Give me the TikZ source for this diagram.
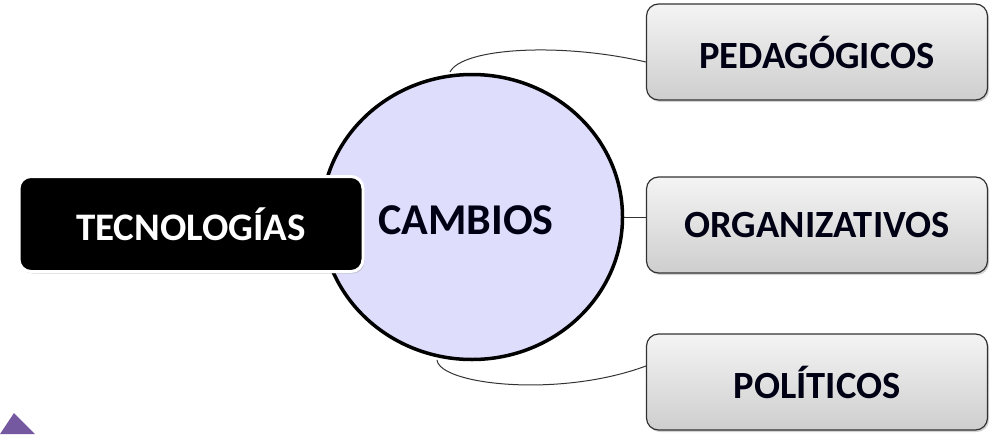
\documentclass[tikz,border=0pt]{standalone}
\usepackage{fontspec}
\setmainfont{Carlito}
\usetikzlibrary{shadows,shapes.geometric}
\definecolor{circfill}{RGB}{222,222,252}
\definecolor{purp}{RGB}{116,88,160}
\definecolor{boxtop}{RGB}{244,244,244}
\definecolor{boxbot}{RGB}{206,206,206}
\definecolor{boxline}{RGB}{50,50,50}
\tikzset{
  graybox/.style={draw=boxline, line width=1.2pt, rounded corners=12pt,
    top color=boxtop, bottom color=boxbot, minimum width=341pt, minimum height=96pt,
    font=\bfseries\fontsize{38.5}{38.5}\selectfont, text=black!92!blue,
    drop shadow={shadow xshift=1.5pt, shadow yshift=-2pt, opacity=0.35}},
  blackbox/.style={draw=white, line width=3pt, fill=black, rounded corners=12pt,
    minimum width=344pt, minimum height=95pt, text=white,
    font=\bfseries\fontsize{39}{39}\selectfont,
    drop shadow={shadow xshift=1.5pt, shadow yshift=-2pt, opacity=0.35}},
  conn/.style={draw=black!80, line width=1pt},
}
\begin{document}
\begin{tikzpicture}[x=1pt,y=-1pt]
\useasboundingbox (0,0) rectangle (998,434);
\fill[purp] (0,434) -- (14,413) -- (35,434) -- cycle;
\node[ellipse, draw=black, line width=3.5pt, fill=circfill, minimum width=301pt, minimum height=285pt, inner sep=0pt] (c) at (472,217) {};
\node[blackbox] (tec) at (191,224) {TECNOLOGÍAS};
\node[font=\bfseries\fontsize{44}{44}\selectfont, text=black!92!blue] (cam) at (466,220) {CAMBIOS};
\node[graybox] (ped) at (817,52) {PEDAGÓGICOS};
\node[graybox] (org) at (817,225) {ORGANIZATIVOS};
\node[graybox] (pol) at (817,382) {POLÍTICOS};
\coordinate (t1) at (450,72);
\coordinate (b1) at (437,360);
\draw[conn] (t1) .. controls (462,48) and (560,42) .. ([yshift=-10pt]ped.west);
\draw[conn] (c.east) -- (c.east -| org.west);
\draw[conn] (b1) .. controls (440,385) and (560,398) .. ([yshift=16pt]pol.west);
\end{tikzpicture}
\end{document}
